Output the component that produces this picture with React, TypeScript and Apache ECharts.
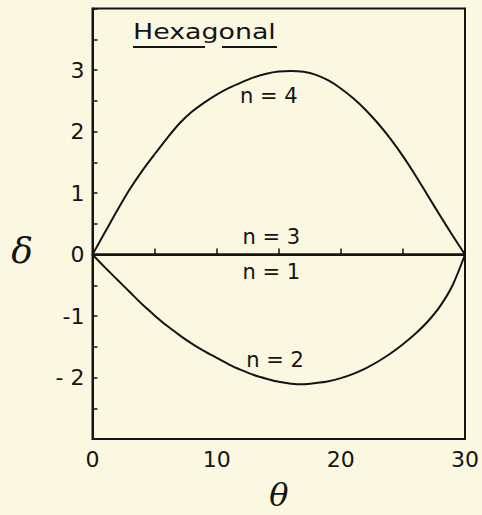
import React, { useEffect, useRef } from "react";
import * as echarts from "echarts";

// θ sample positions shared by the curves
const theta = [0, 1, 2, 3, 4, 5, 6, 7, 8, 9, 10, 11, 12, 13, 14, 15, 16, 17, 18, 19, 20, 21, 22, 23, 24, 25, 26, 27, 28, 29, 30];
// n = 4 curve
const deltaN4 = [0, 0.36, 0.72, 1.06, 1.36, 1.63, 1.89, 2.13, 2.32, 2.47, 2.6, 2.71, 2.8, 2.88, 2.94, 2.975, 2.985, 2.97, 2.92, 2.83, 2.7, 2.54, 2.35, 2.13, 1.88, 1.6, 1.29, 0.96, 0.63, 0.31, 0];
// n = 2 curve
const deltaN2 = [0, -0.21, -0.41, -0.61, -0.81, -0.99, -1.16, -1.31, -1.45, -1.57, -1.68, -1.79, -1.88, -1.96, -2.02, -2.07, -2.1, -2.11, -2.09, -2.06, -2.01, -1.94, -1.85, -1.74, -1.61, -1.46, -1.29, -1.09, -0.84, -0.5, 0];
// n = 1 and n = 3 (zero line)
const thetaFlat = [0, 30];
const deltaN1 = [0, 0];
const deltaN3 = [0, 0];

// curve labels
const labelTexts = ["n = 4", "n = 3", "n = 1", "n = 2"];
const labelTheta = [14.2, 14.4, 14.4, 14.7];
const labelDelta = [2.57, 0.28, -0.28, -1.71];

const xTickLabels: Record<number, string> = { 0: "0", 10: "10", 20: "20", 30: "30" };
const yTickLabels: Record<string, string> = { "-2": "- 2", "-1": "-1", "0": "0", "1": "1", "2": "2", "3": "3" };

const titleText = "Hexagonal";
const xName = "θ";
const yName = "δ";

const INK = "#141414";
const BG = "#fbf8e2";
const FONT = "DejaVu Sans";

const pairs = (xs: number[], ys: number[]) => xs.map((x, i) => [x, ys[i]]);

export default function App() {
  const ref = useRef<HTMLDivElement>(null);
  useEffect(() => {
    document.body.style.margin = "0";
    const chart = echarts.init(ref.current!, null, { renderer: "svg" });
    const lineStyle = { color: INK, width: 2 };
    const curve = (name: string, data: number[][]) => ({
      name,
      type: "line",
      data,
      smooth: 0.3,
      showSymbol: false,
      symbol: "none",
      lineStyle,
      z: 3,
    });
    chart.setOption({
      animation: false,
      backgroundColor: BG,
      grid: {
        left: 92.5,
        right: 17,
        top: 8.5,
        bottom: 76,
        outerBoundsMode: "none",
        containLabel: false,
        show: true,
        borderColor: INK,
        borderWidth: 2,
        backgroundColor: "transparent",
      },
      xAxis: {
        type: "value",
        min: 0,
        max: 30,
        interval: 5,
        name: xName,
        nameLocation: "middle",
        nameGap: 39,
        nameTextStyle: {
          fontFamily: "DejaVu Serif",
          fontStyle: "italic",
          fontSize: 32,
          lineHeight: 34,
          color: INK,
        },
        axisLine: { show: true, lineStyle: { color: INK, width: 2 } },
        axisTick: { show: true, inside: true, length: 6, lineStyle: { color: INK, width: 1.5 } },
        axisLabel: {
          color: INK,
          fontFamily: FONT,
          fontSize: 22,
          margin: 9,
          formatter: (v: number) => xTickLabels[v] ?? "",
        },
        splitLine: { show: false },
      },
      yAxis: {
        type: "value",
        min: -3,
        max: 4,
        interval: 0.5,
        axisLine: { show: true, lineStyle: { color: INK, width: 2 } },
        axisTick: { show: true, inside: true, length: 5, lineStyle: { color: INK, width: 1.5 } },
        axisLabel: {
          color: INK,
          fontFamily: FONT,
          fontSize: 22,
          margin: 8,
          formatter: (v: number) => yTickLabels[String(v)] ?? "",
        },
        splitLine: { show: false },
      },
      series: [
        curve("n = 4", pairs(theta, deltaN4)),
        curve("n = 3", pairs(thetaFlat, deltaN3)),
        curve("n = 1", pairs(thetaFlat, deltaN1)),
        curve("n = 2", pairs(theta, deltaN2)),
        {
          type: "scatter",
          symbolSize: 1,
          silent: true,
          z: 4,
          itemStyle: { opacity: 0 },
          data: labelTexts.map((t, i) => ({ value: [labelTheta[i], labelDelta[i]], name: t })),
          label: {
            show: true,
            position: "inside",
            formatter: (p: any) => p.name,
            color: INK,
            opacity: 1,
            fontFamily: FONT,
            fontSize: 21,
          },
        },
      ],
      graphic: [
        {
          type: "text",
          x: 133,
          y: 20,
          scaleX: 1.22,
          style: { text: titleText, font: `22px "${FONT}"`, fill: INK, verticalAlign: "top", align: "left" },
        },
        { type: "line", shape: { x1: 133, y1: 47, x2: 205, y2: 47 }, style: { stroke: INK, lineWidth: 2 } },
        { type: "line", shape: { x1: 222, y1: 47, x2: 277, y2: 47 }, style: { stroke: INK, lineWidth: 2 } },
        {
          type: "text",
          x: 22,
          y: 250,
          style: {
            text: yName,
            font: `italic 36px "DejaVu Serif"`,
            fill: INK,
            align: "center",
            verticalAlign: "middle",
          },
        },
      ],
    });
    return () => chart.dispose();
  }, []);
  return <div ref={ref} style={{ width: 482, height: 515, background: BG }} />;
}
